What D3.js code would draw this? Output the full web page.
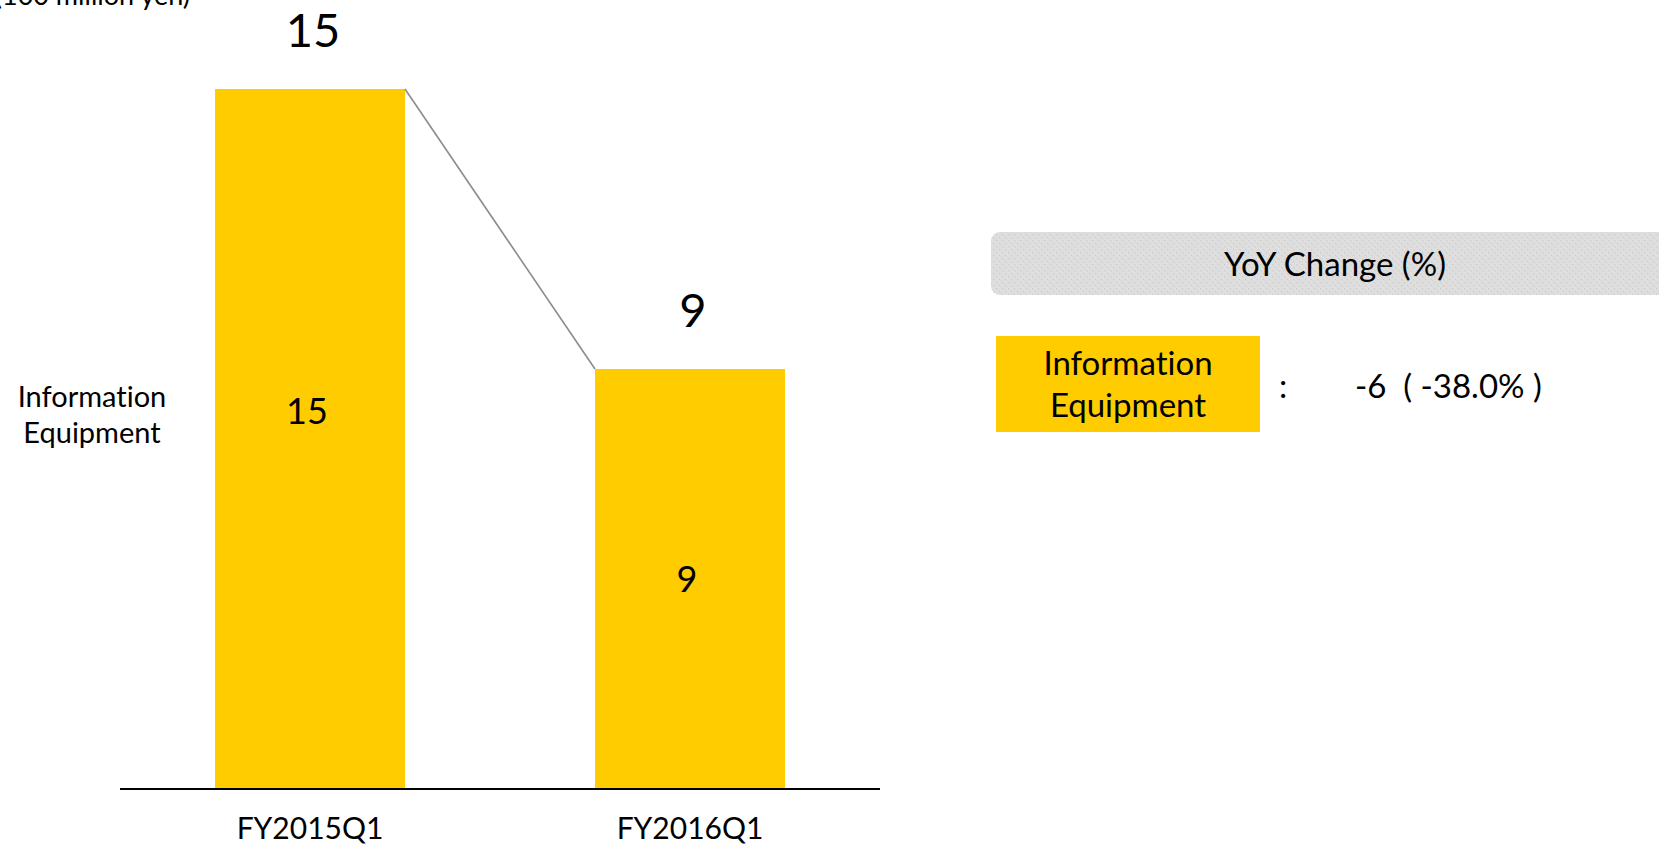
<!DOCTYPE html>
<html>
<head>
<meta charset="utf-8">
<script src="https://cdn.jsdelivr.net/npm/d3@7"></script>
<style>
  html, body { margin: 0; padding: 0; background: #ffffff; }
  svg { display: block; font-family: Lato, "Open Sans", sans-serif; font-variant-ligatures: none; }
  text { font-variant-ligatures: none; font-feature-settings: "liga" 0, "clig" 0; }
</style>
</head>
<body>
<svg id="chart" width="1659" height="848"></svg>
<script>
// ---- data ----
const categories = ["FY2015Q1", "FY2016Q1"];
const seriesName = ["Information", "Equipment"];
const values = [15, 9];
const innerLabelAt = [0.54, 0.5];      // fraction of bar height where inner label sits
const unitLabel = "(100 million yen)";
const yoyTitle = "YoY Change (%)";
const yoyDiff = -6;
const yoyPct = -38.0;

const svg = d3.select("#chart");
const W = 1659, H = 848;
const yellow = "#FFCC00";

// pattern for the grey header box
const defs = svg.append("defs");
const pat = defs.append("pattern").attr("id", "dots")
  .attr("width", 6).attr("height", 6).attr("patternUnits", "userSpaceOnUse");
pat.append("rect").attr("width", 6).attr("height", 6).attr("fill", "#dedede");
pat.append("rect").attr("x", 0).attr("y", 0).attr("width", 1).attr("height", 1).attr("fill", "#c9c9c9");
pat.append("rect").attr("x", 3).attr("y", 3).attr("width", 1).attr("height", 1).attr("fill", "#c9c9c9");
pat.append("rect").attr("x", 1).attr("y", 1).attr("width", 1).attr("height", 1).attr("fill", "#d3d3d3");
pat.append("rect").attr("x", 4).attr("y", 4).attr("width", 1).attr("height", 1).attr("fill", "#d3d3d3");

// ---- scales ----
const x = d3.scaleBand().domain(categories).range([120, 880])
  .paddingInner(0.5).paddingOuter(0.25);
const y = d3.scaleLinear().domain([0, 15]).range([789, 89]);

// unit label
svg.append("text").attr("x", 190).attr("y", 5).attr("text-anchor", "end")
  .attr("font-size", 27).attr("fill", "#000").text(unitLabel);

// bars
svg.selectAll("rect.bar").data(values).join("rect").attr("class", "bar")
  .attr("x", (d, i) => x(categories[i]))
  .attr("y", d => y(d))
  .attr("width", x.bandwidth())
  .attr("height", d => y(0) - y(d))
  .attr("fill", yellow);

// connector line between bar tops
svg.append("line")
  .attr("x1", x(categories[0]) + x.bandwidth()).attr("y1", y(values[0]))
  .attr("x2", x(categories[1])).attr("y2", y(values[1]))
  .attr("stroke", "#8c8c8c").attr("stroke-width", 1.6);

// axis (baseline)
const xAxis = d3.axisBottom(x).tickSize(0).tickPadding(29);
const gx = svg.append("g").attr("transform", `translate(0,${y(0)})`).call(xAxis);
gx.select(".domain").attr("stroke", "#000").attr("stroke-width", 2.2)
  .attr("d", "M120,0H880");
gx.selectAll(".tick text").attr("font-size", 30).attr("fill", "#000")
  .attr("font-family", "Lato, 'Open Sans', sans-serif")
  .attr("dy", "0.71em");

// total labels above bars
svg.selectAll("text.total").data(values).join("text").attr("class", "total")
  .attr("x", (d, i) => x(categories[i]) + x.bandwidth() / 2 + 3)
  .attr("y", d => y(d) - 42)
  .attr("text-anchor", "middle").attr("font-size", 47).attr("fill", "#000")
  .text(d => d);

// inner labels
svg.selectAll("text.inner").data(values).join("text").attr("class", "inner")
  .attr("x", (d, i) => x(categories[i]) + x.bandwidth() / 2 - 3)
  .attr("y", (d, i) => y(d * innerLabelAt[i]) + 13)
  .attr("text-anchor", "middle").attr("font-size", 36).attr("fill", "#000")
  .text(d => d);

// series label at left
const sl = svg.append("text").attr("text-anchor", "middle").attr("font-size", 29).attr("fill", "#000");
seriesName.forEach((t, i) => sl.append("tspan").attr("x", 92).attr("y", 407 + i * 36).text(t));

// right panel: YoY header
svg.append("rect").attr("x", 991).attr("y", 232).attr("width", W - 991 + 20).attr("height", 63)
  .attr("rx", 9).attr("fill", "url(#dots)");
svg.append("text").attr("x", 1335).attr("y", 276).attr("text-anchor", "middle")
  .attr("font-size", 33).attr("fill", "#000").text(yoyTitle);

// legend box
svg.append("rect").attr("x", 996).attr("y", 336).attr("width", 264).attr("height", 96).attr("fill", yellow);
const lt = svg.append("text").attr("text-anchor", "middle").attr("font-size", 33).attr("fill", "#000");
seriesName.forEach((t, i) => lt.append("tspan").attr("x", 1128).attr("y", 375 + i * 42).text(t));

svg.append("text").attr("x", 1283).attr("y", 398).attr("text-anchor", "middle")
  .attr("font-size", 33).attr("fill", "#000").text(":");
svg.append("text").attr("x", 1355).attr("y", 398)
  .attr("font-size", 33).attr("fill", "#000").attr("xml:space", "preserve")
  .text(`${yoyDiff}  ( ${yoyPct.toFixed(1)}% )`);
</script>
</body>
</html>
